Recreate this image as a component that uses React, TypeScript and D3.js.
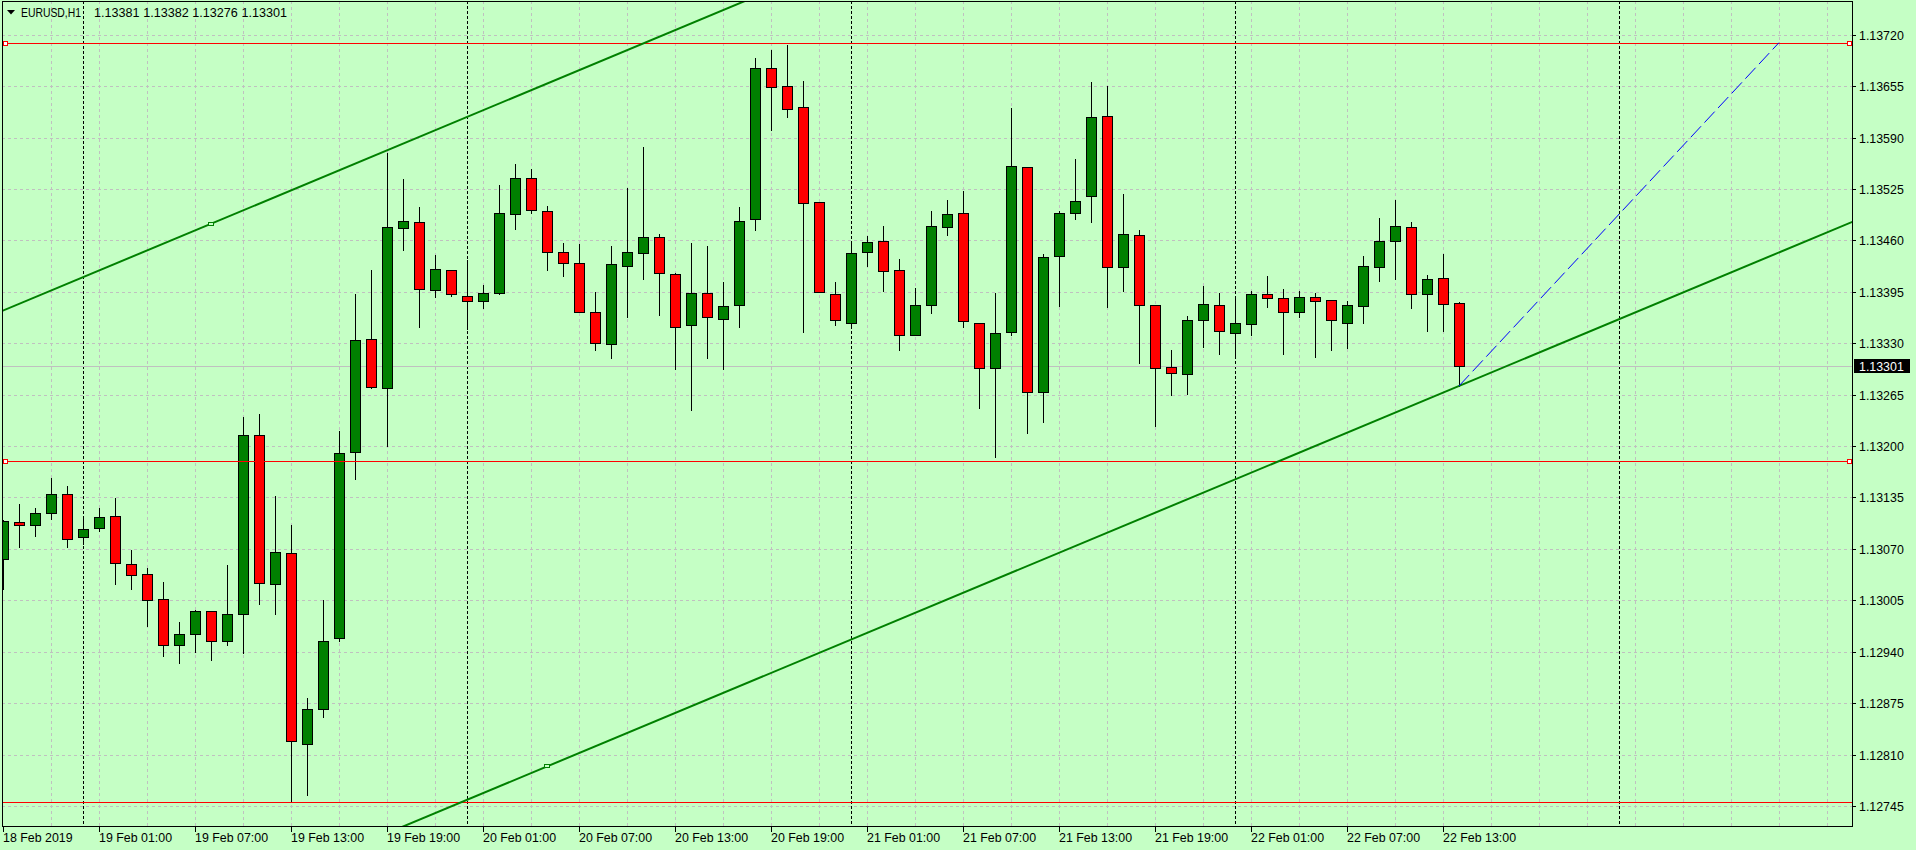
import * as d3 from 'd3';

// EURUSD H1 candles, bar 0 = 18 Feb 19:00, one bar per hour up to 22 Feb 14:00
const opens = [
  1.13057, 1.13104, 1.131, 1.13115, 1.13139, 1.13085, 1.13096, 1.13111, 1.13051, 1.13038,
  1.13007, 1.12949, 1.12963, 1.12992, 1.12954, 1.12988, 1.13214, 1.13026, 1.13065, 1.12824,
  1.12867, 1.12957, 1.13192, 1.13335, 1.13273, 1.13476, 1.13483, 1.13397, 1.13422, 1.1339,
  1.13383, 1.13393, 1.13493, 1.13539, 1.13497, 1.13445, 1.13432, 1.1337, 1.13329, 1.13428,
  1.13444, 1.13464, 1.13417, 1.13353, 1.13393, 1.13361, 1.13378, 1.13487, 1.13678, 1.13655,
  1.13629, 1.13509, 1.13392, 1.13355, 1.13445, 1.13459, 1.13422, 1.1334, 1.13378, 1.13477,
  1.13494, 1.13356, 1.13299, 1.13344, 1.13553, 1.13268, 1.1344, 1.13495, 1.13516, 1.13617,
  1.13426, 1.13467, 1.13378, 1.133, 1.13291, 1.13359, 1.13378, 1.13343, 1.13354, 1.13392,
  1.13387, 1.1337, 1.13388, 1.13385, 1.13356, 1.13377, 1.13426, 1.13459, 1.13477, 1.13392,
  1.13412, 1.13381,
];
const highs = [
  1.13107, 1.13127, 1.13122, 1.1316, 1.1315, 1.13111, 1.13122, 1.13134, 1.13069, 1.13046,
  1.13028, 1.12978, 1.12993, 1.12992, 1.1305, 1.13237, 1.13241, 1.13137, 1.131, 1.12882,
  1.13005, 1.13219, 1.13392, 1.13422, 1.1357, 1.13537, 1.13502, 1.13441, 1.13422, 1.13435,
  1.13404, 1.1353, 1.13556, 1.1355, 1.13503, 1.13457, 1.13455, 1.13395, 1.13453, 1.13526,
  1.13578, 1.13468, 1.13419, 1.13457, 1.13453, 1.13407, 1.13502, 1.1369, 1.13701, 1.13707,
  1.13661, 1.13509, 1.13407, 1.13458, 1.13465, 1.13478, 1.13436, 1.134, 1.13497, 1.13511,
  1.13522, 1.13356, 1.13393, 1.13627, 1.13553, 1.13443, 1.13497, 1.13563, 1.1366, 1.13655,
  1.13519, 1.13473, 1.13378, 1.13321, 1.13364, 1.13402, 1.13393, 1.13389, 1.13396, 1.13415,
  1.13399, 1.13396, 1.13393, 1.13385, 1.13383, 1.1344, 1.13488, 1.13511, 1.13483, 1.13416,
  1.13443, 1.13382,
];
const lows = [
  1.13019, 1.13073, 1.13086, 1.13108, 1.13073, 1.13076, 1.13092, 1.13026, 1.13019, 1.12973,
  1.12934, 1.12926, 1.1294, 1.1293, 1.12948, 1.12939, 1.13, 1.12988, 1.1275, 1.12759,
  1.12858, 1.12954, 1.13158, 1.13273, 1.132, 1.13448, 1.13351, 1.13388, 1.1339, 1.13348,
  1.13375, 1.13392, 1.13474, 1.13495, 1.13422, 1.13415, 1.1337, 1.13321, 1.13311, 1.13363,
  1.13411, 1.13366, 1.13297, 1.13245, 1.13311, 1.13297, 1.13351, 1.13473, 1.136, 1.13616,
  1.13344, 1.13395, 1.13353, 1.1335, 1.13428, 1.13396, 1.13321, 1.1334, 1.13368, 1.13467,
  1.1335, 1.13248, 1.13186, 1.1334, 1.13216, 1.1323, 1.13377, 1.13487, 1.13483, 1.13376,
  1.13396, 1.13305, 1.13225, 1.13264, 1.13266, 1.13325, 1.13316, 1.13311, 1.1334, 1.13376,
  1.13317, 1.13363, 1.13312, 1.13321, 1.13324, 1.13356, 1.13409, 1.13411, 1.13375, 1.13345,
  1.13346, 1.13276,
];
const closes = [
  1.13105, 1.131, 1.13115, 1.13139, 1.13083, 1.13095, 1.1311, 1.13052, 1.13037, 1.13006,
  1.12949, 1.12962, 1.12991, 1.12954, 1.12988, 1.13214, 1.13027, 1.13066, 1.12827, 1.12867,
  1.12954, 1.13191, 1.13334, 1.13275, 1.13477, 1.13485, 1.13399, 1.13424, 1.13392, 1.13383,
  1.13394, 1.13494, 1.13539, 1.13498, 1.13445, 1.13431, 1.1337, 1.1333, 1.1343, 1.13445,
  1.13464, 1.13419, 1.13351, 1.13393, 1.13363, 1.13377, 1.13485, 1.13678, 1.13654, 1.13626,
  1.13507, 1.13395, 1.13359, 1.13444, 1.13458, 1.13421, 1.1334, 1.13378, 1.13478, 1.13493,
  1.13358, 1.13299, 1.13343, 1.13554, 1.13268, 1.13439, 1.13495, 1.1351, 1.13616, 1.13426,
  1.13468, 1.13378, 1.13299, 1.13292, 1.13359, 1.13379, 1.13346, 1.13355, 1.13392, 1.13387,
  1.13369, 1.13388, 1.13384, 1.13359, 1.13378, 1.13428, 1.13459, 1.13478, 1.13392, 1.13411,
  1.13379, 1.13301,
];

const priceTicks = [
  1.12745, 1.1281, 1.12875, 1.1294, 1.13005, 1.1307, 1.13135, 1.132,
  1.13265, 1.1333, 1.13395, 1.1346, 1.13525, 1.1359, 1.13655, 1.1372,
];
const timeLabels = [
  '18 Feb 2019', '19 Feb 01:00', '19 Feb 07:00', '19 Feb 13:00', '19 Feb 19:00', '20 Feb 01:00',
  '20 Feb 07:00', '20 Feb 13:00', '20 Feb 19:00', '21 Feb 01:00', '21 Feb 07:00', '21 Feb 13:00',
  '21 Feb 19:00', '22 Feb 01:00', '22 Feb 07:00', '22 Feb 13:00',
];
const timeLabelBars = [0, 6, 12, 18, 24, 30, 36, 42, 48, 54, 60, 66, 72, 78, 84, 90];
const daySeparatorBars = [5, 29, 53, 77, 101];

// chart objects
const levelPrices = [1.1371, 1.13181, 1.1275];
const levelSelected = [true, true, false];
const channelBars = [[13, 70], [34, 91]];
const channelPrices = [[1.13481, 1.13962], [1.12795, 1.13276]];
const projectionBars = [91, 111];
const projectionPrices = [1.13276, 1.1371];

const symbolName = 'EURUSD,H1';
const lastBarText = '1.13381 1.13382 1.13276 1.13301';
const lastPrice = 1.13301;

const W = 1916;
const H = 850;
const BG = '#c5ffc5';
const GRID = '#c0c0c0';
const FONT = '"Liberation Sans", Arial, sans-serif';
const plot = { left: 2, top: 1, right: 1852, bottom: 826 };

const snap = (v: number) => Math.round(v) + 0.5;

export default function App() {
  const x = d3.scaleLinear().domain([0, 91]).range([3, 1459]);
  const y = d3.scaleLinear().domain([1.12745, 1.1372]).range([806, 34.7]);

  const gridBars = d3.range(3, 116, 3);

  const lineAt = (bars: number[], prices: number[], bar: number) =>
    prices[0] + ((prices[1] - prices[0]) * (bar - bars[0])) / (bars[1] - bars[0]);

  return (
    <div style={{ position: 'absolute', left: 0, top: 0, width: W, height: H, background: BG }}>
      <svg width={W} height={H} style={{ display: 'block', fontFamily: FONT }}>
        <defs>
          <clipPath id="plot-clip">
            <rect x={plot.left} y={plot.top} width={plot.right - plot.left} height={plot.bottom - plot.top} />
          </clipPath>
        </defs>
        <rect width={W} height={H} fill={BG} />

        <g clipPath="url(#plot-clip)">
          {/* grid */}
          {priceTicks.map((p) => (
            <line key={`hg${p}`} x1={plot.left} x2={plot.right} y1={snap(y(p))} y2={snap(y(p))}
              stroke={GRID} strokeDasharray="3,3" />
          ))}
          {gridBars.map((b) => (
            <line key={`vg${b}`} x1={snap(x(b))} x2={snap(x(b))} y1={plot.top} y2={plot.bottom}
              stroke={GRID} strokeDasharray="3,3" />
          ))}
          {daySeparatorBars.map((b) => (
            <line key={`sep${b}`} x1={snap(x(b))} x2={snap(x(b))} y1={plot.top} y2={plot.bottom}
              stroke="#000" strokeDasharray="3,2" />
          ))}
          <line x1={plot.left} x2={plot.right} y1={snap(y(lastPrice))} y2={snap(y(lastPrice))} stroke={GRID} />

          {/* candles */}
          {opens.map((o, i) => {
            const c = closes[i];
            const cx = Math.round(x(i));
            const top = Math.round(y(Math.max(o, c)));
            const bottom = Math.round(y(Math.min(o, c)));
            return (
              <g key={`c${i}`}>
                <line x1={cx + 0.5} x2={cx + 0.5} y1={Math.round(y(highs[i]))} y2={Math.round(y(lows[i])) + 1} stroke="#000" />
                <rect x={cx - 4.5} y={top + 0.5} width={10} height={Math.max(bottom - top, 1)}
                  fill={c >= o ? '#008000' : '#ff0000'} stroke="#000" />
              </g>
            );
          })}

          {/* horizontal levels */}
          {levelPrices.map((p, i) => (
            <g key={`lv${p}`}>
              <line x1={plot.left} x2={plot.right} y1={snap(y(p))} y2={snap(y(p))} stroke="#ff0000" />
              {levelSelected[i] && (
                <>
                  <rect x={3.5} y={Math.round(y(p)) - 1.5} width={4} height={4} fill="#fff" stroke="#ff0000" />
                  <rect x={1847.5} y={Math.round(y(p)) - 1.5} width={4} height={4} fill="#fff" stroke="#ff0000" />
                </>
              )}
            </g>
          ))}

          {/* channel */}
          {channelBars.map((bars, i) => {
            const prices = channelPrices[i];
            return (
              <g key={`ch${i}`}>
                <line x1={x(-2)} x2={x(118)} y1={y(lineAt(bars, prices, -2))} y2={y(lineAt(bars, prices, 118))}
                  stroke="#008000" strokeWidth={2} />
                <rect x={Math.round(x(bars[0])) - 2.5} y={Math.round(y(prices[0])) - 1.5} width={5} height={3}
                  fill={BG} stroke="#008000" />
              </g>
            );
          })}
          <line x1={x(projectionBars[0])} x2={x(projectionBars[1])} y1={y(projectionPrices[0])} y2={y(projectionPrices[1])}
            stroke="#0000ff" strokeDasharray="15,5" />
        </g>

        {/* frame */}
        <rect x={plot.left + 0.5} y={plot.top + 0.5} width={plot.right - plot.left} height={plot.bottom - plot.top}
          fill="none" stroke="#000" />

        {/* price axis */}
        {priceTicks.map((p) => (
          <g key={`pt${p}`}>
            <line x1={plot.right} x2={plot.right + 4} y1={snap(y(p))} y2={snap(y(p))} stroke="#000" />
            <text x={1859} y={Math.round(y(p)) + 5} fontSize={12.4} fill="#000">{p.toFixed(5)}</text>
          </g>
        ))}
        <rect x={1854} y={Math.round(y(lastPrice)) - 7} width={56} height={14} fill="#000" />
        <text x={1859} y={Math.round(y(lastPrice)) + 5} fontSize={12.4} fill="#fff">{lastPrice.toFixed(5)}</text>

        {/* time axis */}
        {timeLabelBars.map((b, i) => (
          <g key={`tl${b}`}>
            <line x1={snap(x(b))} x2={snap(x(b))} y1={plot.bottom + 1} y2={plot.bottom + 6} stroke="#000" />
            <text x={Math.round(x(b))} y={842} fontSize={12.4} fill="#000">
              {timeLabels[i]}
            </text>
          </g>
        ))}

        {/* header */}
        <path d="M7,10 L15,10 L11,14.5 Z" fill="#000" />
        <text x={21} y={17} fontSize={12.4} textLength={60} lengthAdjust="spacingAndGlyphs" fill="#000">{symbolName}</text>
        <text x={94} y={17} fontSize={12.6} textLength={193} fill="#000">{lastBarText}</text>
      </svg>
    </div>
  );
}
